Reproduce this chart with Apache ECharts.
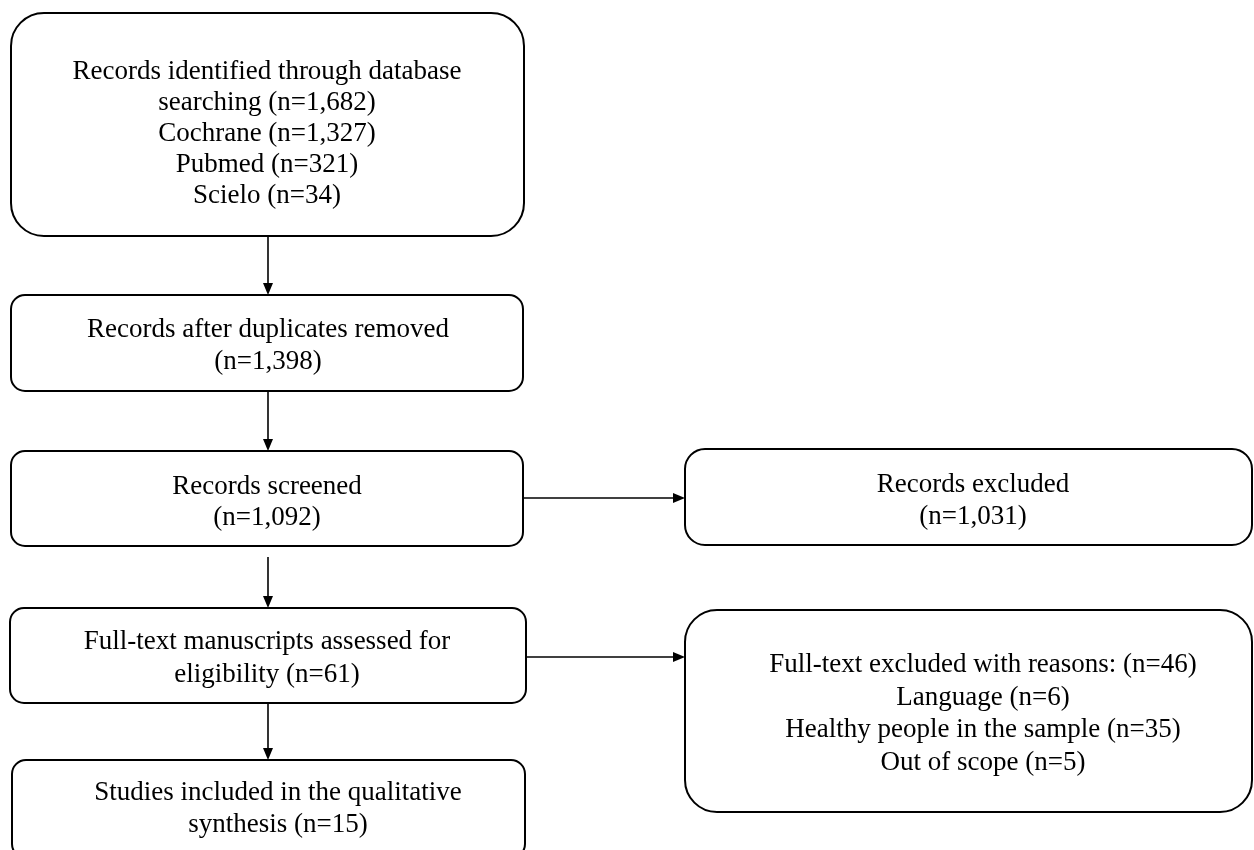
<!DOCTYPE html>
<html>
<head>
<meta charset="utf-8">
<script src="https://cdn.jsdelivr.net/npm/echarts@6/dist/echarts.min.js"></script>
<style>
html,body{margin:0;padding:0;background:#fff}
#chart{width:1254px;height:850px}
</style>
</head>
<body>
<div id="chart"></div>
<script>
// ---------------- data ----------------
const mainSteps = [
  "Records identified through database\nsearching (n={n})",
  "Records after duplicates removed\n(n={n})",
  "Records screened\n(n={n})",
  "Full-text manuscripts assessed for\neligibility (n={n})",
  "Studies included in the qualitative\nsynthesis (n={n})"
];
const mainCounts = [1682, 1398, 1092, 61, 15];
const databases = ["Cochrane", "Pubmed", "Scielo"];
const databaseCounts = [1327, 321, 34];
const exclusionSteps = ["Records excluded\n(n={n})", "Full-text excluded with reasons: (n={n})"];
const exclusionCounts = [1031, 46];
const reasons = ["Language", "Healthy people in the sample", "Out of scope"];
const reasonCounts = [6, 35, 5];

// ---------------- layout (pixel space of the hidden axes) ----------------
const mainLayout = [
  {x0: 11, y0: 13,  x1: 524, y1: 236, r: 33, tx: 267, ty: 134, lh: 31},
  {x0: 11, y0: 295, x1: 523, y1: 391, r: 14, tx: 268, ty: 346, lh: 32},
  {x0: 11, y0: 451, x1: 523, y1: 546, r: 14, tx: 267, ty: 502, lh: 31},
  {x0: 10, y0: 608, x1: 526, y1: 703, r: 14, tx: 267, ty: 658, lh: 33},
  {x0: 12, y0: 760, x1: 525, y1: 858, r: 14, tx: 278, ty: 809, lh: 32}
];
const sideLayout = [
  {x0: 685, y0: 449, x1: 1252, y1: 545, r: 20, tx: 973, ty: 501, lh: 32},
  {x0: 685, y0: 610, x1: 1252, y1: 812, r: 32, tx: 983, ty: 714, lh: 32.7}
];
const downGaps = [0, 0, 11, 0];          // gap below a main box before its arrow starts
const sideArrowY = [498, 657];           // height of the arrows to the side boxes

const fmt = v => v.toLocaleString('en-US');

// build box texts from the data
const mainTexts = mainSteps.map((t, i) => {
  let s = t.replace('{n}', fmt(mainCounts[i]));
  if (i === 0) s += '\n' + databases.map((d, k) => d + ' (n=' + fmt(databaseCounts[k]) + ')').join('\n');
  return s;
});
const sideTexts = exclusionSteps.map((t, i) => {
  let s = t.replace('{n}', fmt(exclusionCounts[i]));
  if (i === 1) s += '\n' + reasons.map((d, k) => d + ' (n=' + fmt(reasonCounts[k]) + ')').join('\n');
  return s;
});

const boxes = mainLayout.map((b, i) => Object.assign({text: mainTexts[i]}, b))
  .concat(sideLayout.map((b, i) => Object.assign({text: sideTexts[i]}, b)));

const boxData = boxes.map(b => [b.x0, b.y0, b.x1, b.y1]);

// arrows derived from the box geometry
const arrowData = [];
for (let i = 0; i < mainLayout.length - 1; i++) {
  const a = mainLayout[i], b = mainLayout[i + 1];
  const x = 268;
  arrowData.push([x, a.y1 + downGaps[i], x, b.y0]);
}
[[2, 0], [3, 1]].forEach(([mi, si], k) => {
  arrowData.push([mainLayout[mi].x1, sideArrowY[k], sideLayout[si].x0, sideArrowY[k]]);
});

const FONT = '"Liberation Serif", "Times New Roman", serif';

const chart = echarts.init(document.getElementById('chart'), null, {renderer: 'canvas'});
chart.setOption({
  backgroundColor: '#ffffff',
  animation: false,
  grid: {left: 0, right: 0, top: 0, bottom: 0},
  xAxis: {type: 'value', min: 0, max: 1254, show: false},
  yAxis: {type: 'value', min: 0, max: 850, inverse: true, show: false},
  series: [
    {
      type: 'custom',
      coordinateSystem: 'cartesian2d',
      data: boxData,
      clip: false,
      renderItem: function (params, api) {
        const b = boxes[params.dataIndex];
        const p0 = api.coord([api.value(0), api.value(1)]);
        const p1 = api.coord([api.value(2), api.value(3)]);
        const tc = api.coord([b.tx, b.ty]);
        return {
          type: 'group',
          children: [
            {
              type: 'rect',
              shape: {x: p0[0], y: p0[1], width: p1[0] - p0[0], height: p1[1] - p0[1], r: b.r},
              style: {fill: '#ffffff', stroke: '#000000', lineWidth: 2}
            },
            {
              type: 'text',
              style: {
                text: b.text, x: tc[0], y: tc[1],
                fill: '#000000', fontSize: 27, fontFamily: FONT,
                align: 'center', verticalAlign: 'middle', lineHeight: b.lh
              }
            }
          ]
        };
      }
    },
    {
      type: 'custom',
      coordinateSystem: 'cartesian2d',
      data: arrowData,
      clip: false,
      renderItem: function (params, api) {
        const s = api.coord([api.value(0), api.value(1)]);
        const e = api.coord([api.value(2), api.value(3)]);
        const dx = e[0] - s[0], dy = e[1] - s[1];
        const len = Math.sqrt(dx * dx + dy * dy);
        const ux = dx / len, uy = dy / len;
        const hl = 12, hw = 5;
        const bx = e[0] - ux * hl, by = e[1] - uy * hl;
        return {
          type: 'group',
          children: [
            {type: 'line', shape: {x1: s[0], y1: s[1], x2: bx, y2: by},
             style: {stroke: '#000000', lineWidth: 1.6}},
            {type: 'polygon', shape: {points: [[e[0], e[1]], [bx - uy * hw, by + ux * hw], [bx + uy * hw, by - ux * hw]]},
             style: {fill: '#000000'}}
          ]
        };
      }
    }
  ]
});
</script>
</body>
</html>
